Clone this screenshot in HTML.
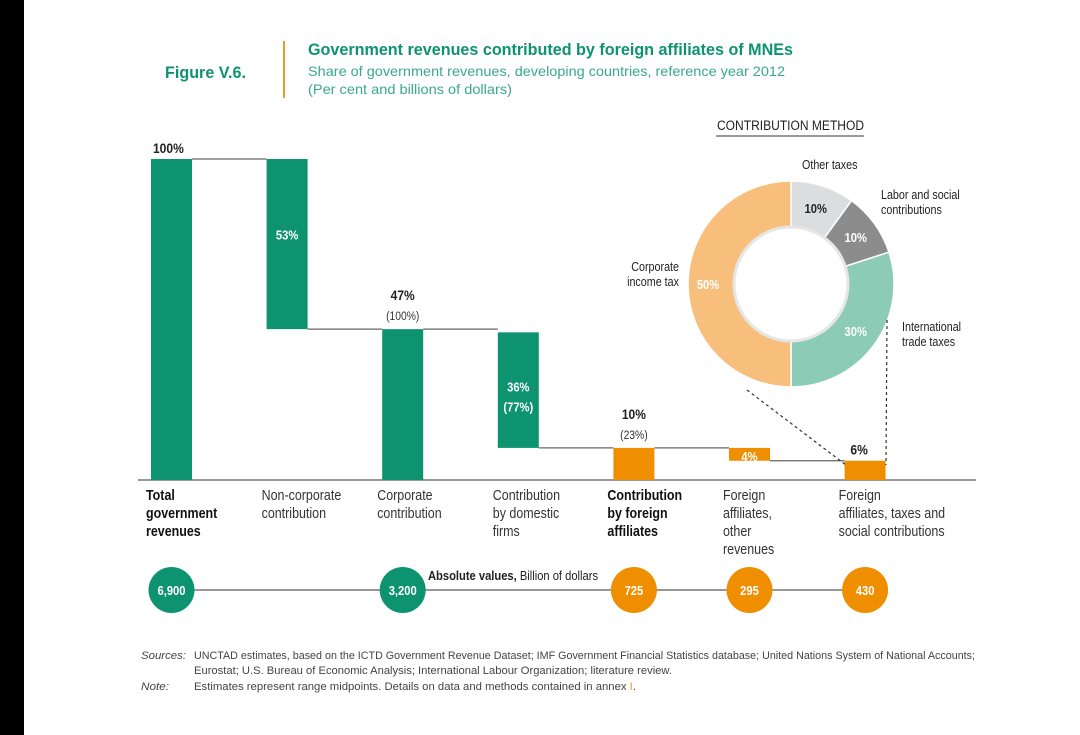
<!DOCTYPE html>
<html><head><meta charset="utf-8"><style>
body{margin:0;background:#fff;}
svg{display:block;font-family:"Liberation Sans Narrow","Liberation Sans",sans-serif;}
</style></head><body>
<svg id="c" width="1080" height="735" viewBox="0 0 1080 735">
<rect x="0" y="0" width="24" height="735" fill="#000"/>
<text class="fx" x="165" y="78" font-size="17" font-weight="bold" fill="#0e9370" textLength="81" lengthAdjust="spacingAndGlyphs">Figure V.6.</text>
<line x1="284" y1="41" x2="284" y2="98" stroke="#e89a2c" stroke-width="2"/>
<text class="fx" x="308" y="55" font-size="17" font-weight="bold" fill="#0e9370" textLength="485" lengthAdjust="spacingAndGlyphs">Government revenues contributed by foreign affiliates of MNEs</text>
<text class="fx" x="308" y="76" font-size="14" fill="#3aa98a" textLength="477" lengthAdjust="spacingAndGlyphs">Share of government revenues, developing countries, reference year 2012</text>
<text class="fx" x="308" y="94" font-size="14" fill="#3aa98a" textLength="204" lengthAdjust="spacingAndGlyphs">(Per cent and billions of dollars)</text>
<g id="wf"></g>
<g id="donut"></g>
<g id="abs"></g>
<text class="fx" x="141" y="659" font-size="11" font-style="italic" fill="#444" textLength="45" lengthAdjust="spacingAndGlyphs">Sources:</text>
<text class="fx" x="194" y="659" font-size="11" fill="#444" textLength="781" lengthAdjust="spacingAndGlyphs">UNCTAD estimates, based on the ICTD Government Revenue Dataset; IMF Government Financial Statistics database; United Nations System of National Accounts;</text>
<text class="fx" x="194" y="674" font-size="11" fill="#444" textLength="478" lengthAdjust="spacingAndGlyphs">Eurostat; U.S. Bureau of Economic Analysis; International Labour Organization; literature review.</text>
<text class="fx" x="141" y="690" font-size="11" font-style="italic" fill="#444" textLength="28" lengthAdjust="spacingAndGlyphs">Note:</text>
<text class="fx" x="194" y="690" font-size="11" fill="#444" textLength="442" lengthAdjust="spacingAndGlyphs">Estimates represent range midpoints. Details on data and methods contained in annex <tspan fill="#e89a2c">I</tspan>.</text>
</svg>
<script>
const categories=[["Total","government","revenues"],["Non-corporate","contribution"],["Corporate","contribution"],["Contribution","by domestic","firms"],["Contribution","by foreign","affiliates"],["Foreign","affiliates,","other","revenues"],["Foreign","affiliates, taxes and","social contributions"]];
const values=[100,53,47,36,10,4,6];
const bases=[0,47,0,10,0,6,0];
const valueLabels=["100%","53%","47%","36%","10%","4%","6%"];
const subLabels=["","","(100%)","(77%)","(23%)","",""];
const boldCats=[true,false,false,false,true,false,false];
const barColors=["#0e9370","#0e9370","#0e9370","#0e9370","#ef8f00","#ef8f00","#ef8f00"];
const absValues=["6,900",null,"3,200",null,"725","295","430"];
const donutLabels=["Other taxes","Labor and social contributions","International trade taxes","Corporate income tax"];
const donutValues=[10,10,30,50];
const donutColors=["#dcdddf","#8c8c8c","#8ccbb6","#f7bf7b"];

const NS="http://www.w3.org/2000/svg";
function mk(tag,attrs,parent,txt){const e=document.createElementNS(NS,tag);for(const k in attrs)e.setAttribute(k,attrs[k]);if(txt!==undefined)e.textContent=txt;parent.appendChild(e);return e;}
const baseY=480, topY=159;
function y(v){return baseY-(v/100)*(baseY-topY);}
function xb(i){return 151+i*115.6;}
const bw=41;
const wf=document.getElementById('wf');
for(let i=0;i<values.length-1;i++){
  const cy=y(i===0?values[0]:(bases[i]===0?values[i]:bases[i]));
  const l=mk('line',{x1:xb(i)+bw,y1:cy,x2:xb(i+1),y2:cy,stroke:'#666','stroke-width':1.3},wf);
  
  
}
const ax=mk('line',{x1:138,y1:baseY,x2:976,y2:baseY,stroke:'#777','stroke-width':1.5},wf);


values.forEach((v,i)=>{
  const top=y(bases[i]+v), bot=y(bases[i]);
  const r=mk('rect',{x:xb(i),y:top,width:bw,height:bot-top,fill:barColors[i]},wf);
  
  
  const cx=xb(i)+bw/2;
  const inside=(i===1||i===3||i===5);
  let t;
  if(inside){
    const ty=(i===5)?top+13:(i===1?y(bases[i]+v*0.55)+4:top+59);
    t=mk('text',{x:cx,y:ty,'text-anchor':'middle','font-size':13,'font-weight':'bold',fill:'#fff'},wf,valueLabels[i]);
    if(subLabels[i]){const s=mk('text',{x:cx,y:ty+20,'text-anchor':'middle','font-size':13,'font-weight':'bold',fill:'#fff'},wf,subLabels[i]);}
  }else{
    const off=subLabels[i]?29:6;
    t=mk('text',{x:(i===0?xb(i)+2:cx+(i===6?-6:0)),y:top-off,'text-anchor':i===0?'start':'middle','font-size':14,'font-weight':'bold',fill:'#222'},wf,valueLabels[i]);
    if(subLabels[i]){const s=mk('text',{x:cx,y:top-9,'text-anchor':'middle','font-size':12,fill:'#333'},wf,subLabels[i]);}
  }
  
  
  categories[i].forEach((line,j)=>{
    const c=mk('text',{x:xb(i)-5+(i>=4?-1:0),y:500+j*18,'font-size':14.5,'font-weight':boldCats[i]?'bold':'normal',fill:boldCats[i]?'#111':'#333'},wf,line);
    
    
  });
});
const dg=document.getElementById('donut');
const dcx=791,dcy=284,R=103,r0=57;
const h=mk('text',{x:717,y:130,'font-size':14,fill:'#222'},dg,'CONTRIBUTION METHOD');


const hl=mk('line',{x1:716,y1:136,x2:864,y2:136,stroke:'#333','stroke-width':1},dg);


const tot=donutValues.reduce((a,b)=>a+b,0);
let acc=0;
const lblPos=[[802,169,'start'],[881,199,'start'],[902,331,'start'],[679,271,'end']];
donutValues.forEach((v,i)=>{
  const a0=acc/tot*2*Math.PI, a1=(acc+v)/tot*2*Math.PI; acc+=v;
  const p=(a,rr)=>[dcx+rr*Math.sin(a),dcy-rr*Math.cos(a)];
  const [x0,y0]=p(a0,R),[x1,y1]=p(a1,R),[x2,y2]=p(a1,r0),[x3,y3]=p(a0,r0);
  const lg=(a1-a0)>Math.PI?1:0;
  const s=mk('path',{d:`M${x0},${y0}A${R},${R} 0 ${lg} 1 ${x1},${y1}L${x2},${y2}A${r0},${r0} 0 ${lg} 0 ${x3},${y3}Z`,fill:donutColors[i],stroke:'#fff','stroke-width':1.5},dg);
  
  
  const am=(a0+a1)/2,[lx,ly]=p(am,(R+r0)/2+(i===3?3:0));
  const pt=mk('text',{x:lx,y:ly+5,'text-anchor':'middle','font-size':13,'font-weight':'bold',fill:i===0?'#222':'#fff'},dg,v+'%');
  
  
  let lines;
  if(i===0)lines=[donutLabels[i]];else if(i===1)lines=['Labor and social','contributions'];else if(i===2)lines=['International','trade taxes'];else lines=['Corporate','income tax'];
  lines.forEach((ln,j)=>{const lt=mk('text',{x:lblPos[i][0],y:lblPos[i][1]+j*15,'text-anchor':lblPos[i][2],'font-size':12.5,fill:'#222'},dg,ln);});
});
const c1=mk('circle',{cx:dcx,cy:dcy,r:r0,fill:'none',stroke:'#e6e6e6','stroke-width':3},dg);


const d1=mk('line',{x1:747,y1:390,x2:846,y2:465,stroke:'#333','stroke-width':1.2,'stroke-dasharray':'3,3'},dg);


const d2=mk('line',{x1:887,y1:320,x2:886,y2:465,stroke:'#333','stroke-width':1.2,'stroke-dasharray':'3,3'},dg);


const ag=document.getElementById('abs');
const ay=590;
const al=mk('line',{x1:172,y1:ay,x2:866,y2:ay,stroke:'#777','stroke-width':1.5},ag);


const at=mk('text',{x:428,y:580,'font-size':13,fill:'#222'},ag);
at.innerHTML='<tspan font-weight="bold">Absolute values,</tspan> Billion of dollars';


absValues.forEach((v,i)=>{
  if(v===null)return;
  const cx=xb(i)+bw/2;
  const c=mk('circle',{cx:cx,cy:ay,r:23,fill:barColors[i]},ag);
  
  
  const t=mk('text',{x:cx,y:ay+5,'text-anchor':'middle','font-size':13,'font-weight':'bold',fill:'#fff'},ag,v);
  
  
});
document.querySelectorAll('#c text:not(.fx)').forEach(t=>{
  const x=parseFloat(t.getAttribute('x'))||0;
  t.setAttribute('transform',`translate(${x},0) scale(0.86,1) translate(${-x},0)`);
});
</script>
</body></html>
